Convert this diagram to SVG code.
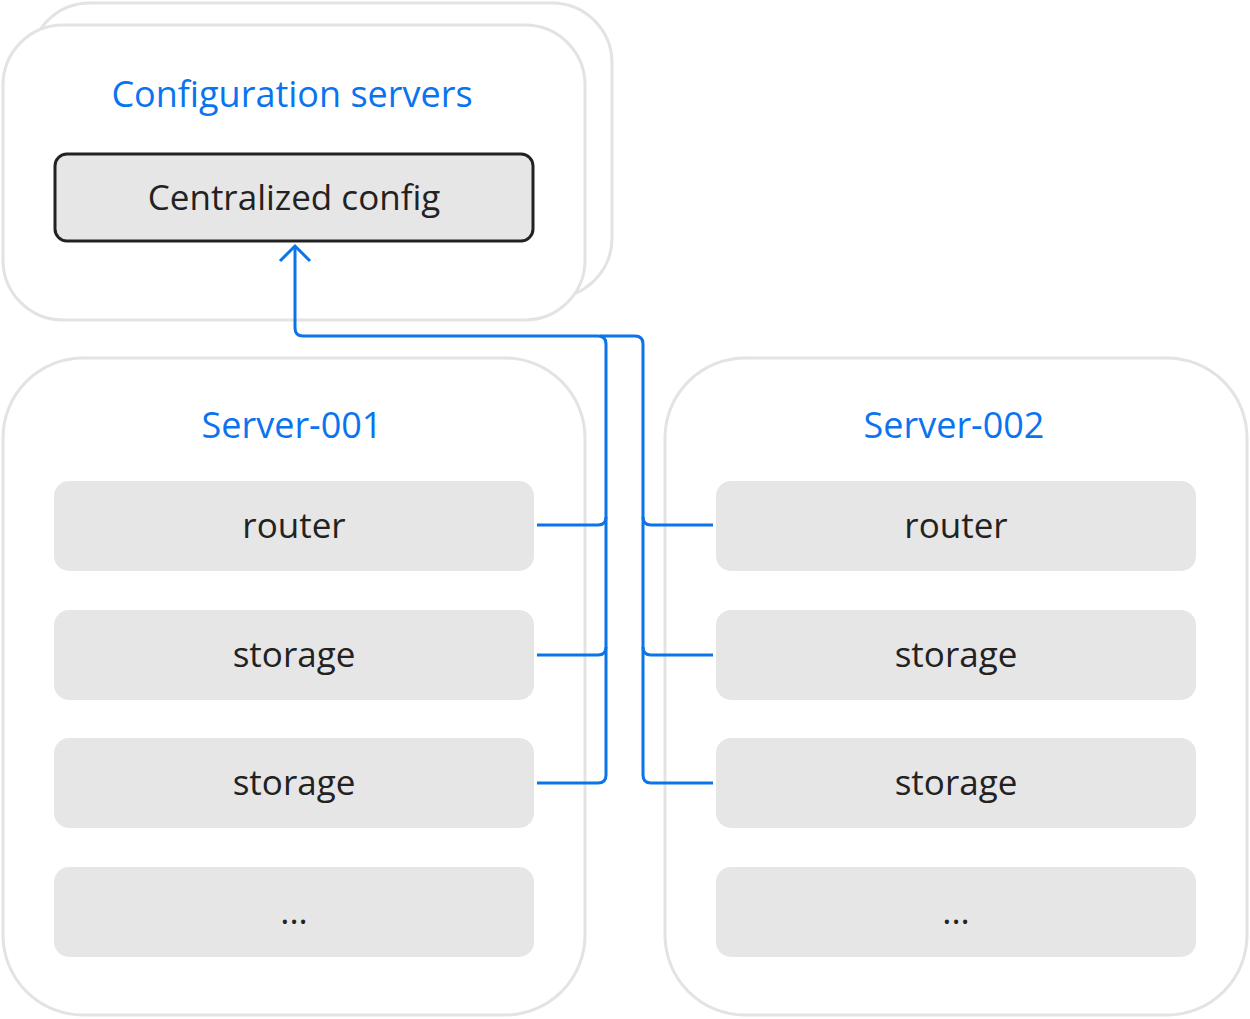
<svg xmlns="http://www.w3.org/2000/svg" width="1250" height="1019" viewBox="0 0 1250 1019">
<style>
.grp{fill:#fff;stroke:#e3e3e3;stroke-width:3}
.item{fill:#e6e6e6}
.t{font-family:"Open Sans","Noto Sans",sans-serif;font-size:35px;fill:#222;text-anchor:middle}
.h{font-family:"Open Sans","Noto Sans",sans-serif;font-size:36px;fill:#0a74f0;text-anchor:middle}
.c{fill:none;stroke:#0a74e8;stroke-width:3}
</style>
<rect width="1250" height="1019" fill="#fff"/>
<g id="config">
<rect class="grp" x="30" y="3" width="582" height="295" rx="60"/>
<rect class="grp" x="3" y="25" width="582" height="295" rx="60"/>
<text class="h" x="292" y="107">Configuration servers</text>
</g>
<g id="central">
<rect x="55" y="154" width="478" height="87" rx="12" fill="#e6e6e6" stroke="#222" stroke-width="3"/>
<text class="t" x="294" y="210">Centralized config</text>
</g>
<g id="server1">
<rect class="grp" x="3" y="358" width="582" height="657" rx="80"/>
<text class="h" x="292" y="438">Server-001</text>
</g>
<g id="s1-router"><rect class="item" x="54" y="481" width="480" height="90" rx="15"/><text class="t" x="294" y="538">router</text></g>
<g id="s1-storage1"><rect class="item" x="54" y="610" width="480" height="90" rx="15"/><text class="t" x="294" y="667">storage</text></g>
<g id="s1-storage2"><rect class="item" x="54" y="738" width="480" height="90" rx="15"/><text class="t" x="294" y="795">storage</text></g>
<g id="s1-more"><rect class="item" x="54" y="867" width="480" height="90" rx="15"/><text class="t" x="294" y="924">...</text></g>
<g id="server2">
<rect class="grp" x="665" y="358" width="582" height="657" rx="80"/>
<text class="h" x="954" y="438">Server-002</text>
</g>
<g id="s2-router"><rect class="item" x="716" y="481" width="480" height="90" rx="15"/><text class="t" x="956" y="538">router</text></g>
<g id="s2-storage1"><rect class="item" x="716" y="610" width="480" height="90" rx="15"/><text class="t" x="956" y="667">storage</text></g>
<g id="s2-storage2"><rect class="item" x="716" y="738" width="480" height="90" rx="15"/><text class="t" x="956" y="795">storage</text></g>
<g id="s2-more"><rect class="item" x="716" y="867" width="480" height="90" rx="15"/><text class="t" x="956" y="924">...</text></g>
<g id="connectors">
<path class="c" d="M537,783 H598 q8,0 8,-8 V344 q0,-8 -8,-8 H303 q-8,0 -8,-8 V247"/>
<path class="c" d="M537,525 H598 q8,0 8,-8"/>
<path class="c" d="M537,655 H598 q8,0 8,-8"/>
<path class="c" d="M713,783 H651 q-8,0 -8,-8 V344 q0,-8 -8,-8 H600"/>
<path class="c" d="M713,525 H651 q-8,0 -8,-8"/>
<path class="c" d="M713,655 H651 q-8,0 -8,-8"/>
<path class="c" d="M280,261 L295,246 L310,261"/>
</g>
</svg>
